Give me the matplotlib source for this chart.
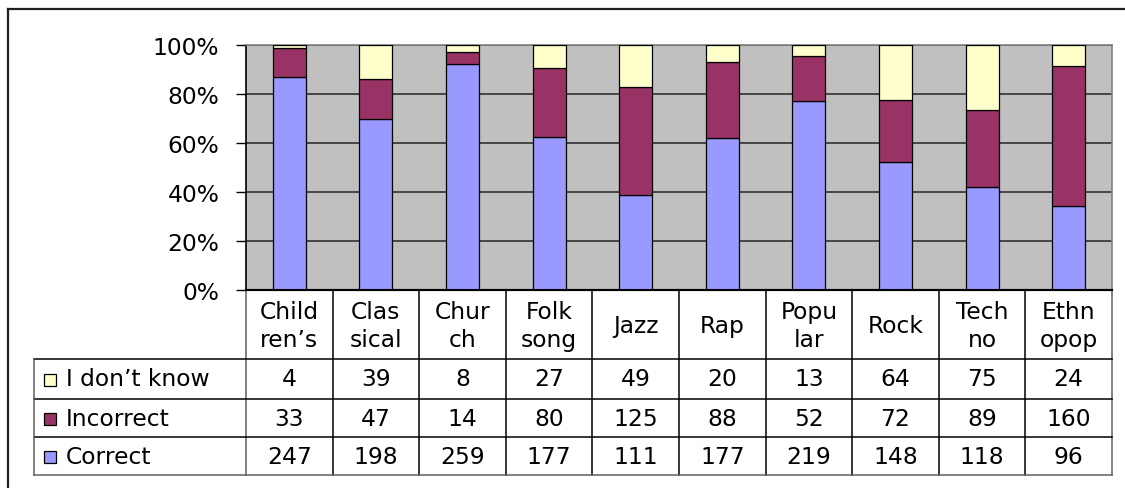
import matplotlib
matplotlib.use("Agg")
import matplotlib.pyplot as plt
import numpy as np
from matplotlib.patches import Rectangle

# ---- data ----
categories = ["Child\nren\u2019s", "Clas\nsical", "Chur\nch", "Folk\nsong", "Jazz",
              "Rap", "Popu\nlar", "Rock", "Tech\nno", "Ethn\nopop"]
series_names = ["I don\u2019t know", "Incorrect", "Correct"]
dont_know = [4, 39, 8, 27, 49, 20, 13, 64, 75, 24]
incorrect = [33, 47, 14, 80, 125, 88, 52, 72, 89, 160]
correct = [247, 198, 259, 177, 111, 177, 219, 148, 118, 96]
y_ticks = [0, 20, 40, 60, 80, 100]
y_tick_labels = ["0%", "20%", "40%", "60%", "80%", "100%"]

colors = {"Correct": "#9999FF", "Incorrect": "#993366", "I don\u2019t know": "#FFFFCC"}

FONT = "DejaVu Sans"
FS = 16.8
plt.rcParams["font.family"] = [FONT]

W, H = 1125, 489
fig = plt.figure(figsize=(W / 100, H / 100), dpi=100)

# plot area in pixels
PX0, PX1, PY0, PY1 = 246, 1112, 46, 291

def fr(x0, y0, x1, y1):
    return [x0 / W, 1 - y1 / H, (x1 - x0) / W, (y1 - y0) / H]

ax = fig.add_axes(fr(PX0, PY0, PX1, PY1))
ax.set_facecolor("#C0C0C0")

n = len(categories)
c = np.array(correct, float)
i_ = np.array(incorrect, float)
d = np.array(dont_know, float)
tot = c + i_ + d
pc, pi, pd = c / tot * 100, i_ / tot * 100, d / tot * 100
x = np.arange(n) + 0.5
bw = 0.38
ax.bar(x, pc, bw, color=colors["Correct"], edgecolor="black", linewidth=0.9, zorder=3)
ax.bar(x, pi, bw, bottom=pc, color=colors["Incorrect"], edgecolor="black", linewidth=0.9, zorder=3)
ax.bar(x, pd, bw, bottom=pc + pi, color=colors["I don\u2019t know"], edgecolor="black", linewidth=0.9, zorder=3)

ax.set_xlim(0, n)
ax.set_ylim(0, 100)
ax.set_yticks(y_ticks)
ax.set_yticklabels(y_tick_labels, fontsize=FS)
ax.set_xticks([])
ax.tick_params(axis="y", length=7.2, width=1, color="black", pad=12)
ax.yaxis.grid(True, color="#303030", linewidth=1.2, zorder=1)
ax.set_axisbelow(True)
for s in ["top", "right"]:
    ax.spines[s].set_color("#808080")
    ax.spines[s].set_linewidth(1.2)
ax.spines["left"].set_color("black")
ax.spines["left"].set_linewidth(1.2)
ax.spines["bottom"].set_color("black")
ax.spines["bottom"].set_linewidth(1.5)

# overlay axes for table and frame (pixel coordinates)
tax = fig.add_axes([0, 0, 1, 1], zorder=5)
tax.set_xlim(0, W)
tax.set_ylim(H, 0)
tax.axis("off")
tax.patch.set_alpha(0)

# outer frame (partially visible)
tax.plot([8, W], [10, 10], color="#202020", lw=1.6)
tax.plot([8, 8], [10, H], color="#202020", lw=1.6)

cw = (PX1 - PX0) / n
LX = 34
rows_y = [PY1, 360, 400, 438, 476]
lw_in = 1.1

# vertical lines of category columns
for k in range(n + 1):
    xx = PX0 + k * cw
    tax.plot([xx, xx], [PY1, rows_y[-1]], color="black" if 0 < k < n else "#606060", lw=lw_in)
# horizontal lines
tax.plot([PX0, PX1], [PY1, PY1], color="black", lw=1.5)
for yy in rows_y[1:-1]:
    tax.plot([LX, PX1], [yy, yy], color="black", lw=lw_in)
tax.plot([LX, PX1], [rows_y[-1], rows_y[-1]], color="#606060", lw=lw_in)
tax.plot([LX, LX], [rows_y[1], rows_y[-1]], color="#606060", lw=lw_in)

# header labels
for k, cat in enumerate(categories):
    cx = PX0 + (k + 0.5) * cw
    tax.text(cx, (rows_y[0] + rows_y[1]) / 2 + 1, cat, ha="center", va="center",
             fontsize=FS, linespacing=1.3)

# data rows
row_data = [dont_know, incorrect, correct]
for r, (name, vals) in enumerate(zip(series_names, row_data)):
    y0, y1 = rows_y[r + 1], rows_y[r + 2]
    cy = (y0 + y1) / 2
    tax.add_patch(Rectangle((44, cy - 5), 12, 12, facecolor=colors[name],
                            edgecolor="black", lw=0.9))
    tax.text(66, cy, name, ha="left", va="center", fontsize=FS)
    for k, v in enumerate(vals):
        cx = PX0 + (k + 0.5) * cw
        tax.text(cx, cy, str(v), ha="center", va="center", fontsize=FS)

fig.savefig("out.png", dpi=100)
